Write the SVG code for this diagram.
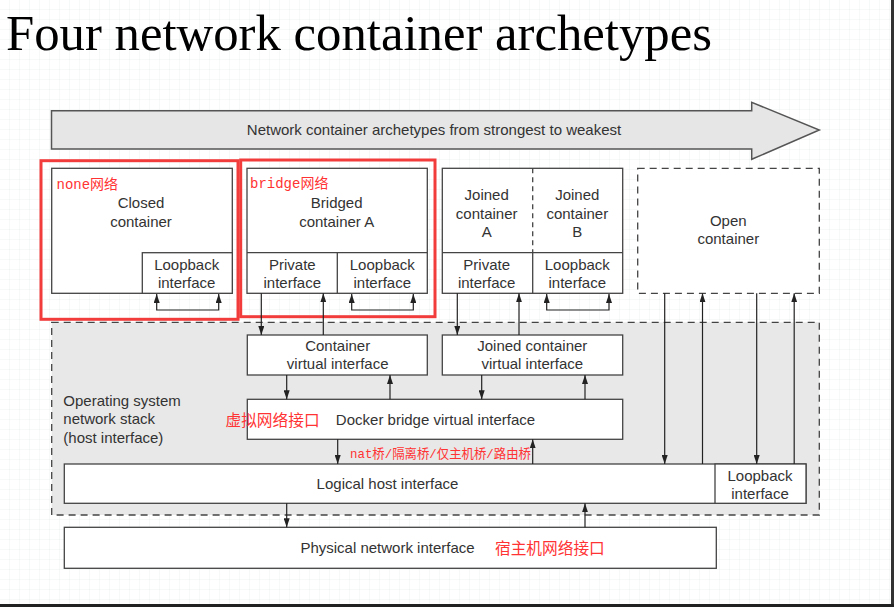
<svg xmlns="http://www.w3.org/2000/svg" width="894" height="607" viewBox="0 0 894 607">
<defs>
<pattern id="grid" width="10" height="10" patternUnits="userSpaceOnUse">
<path d="M10,0 V10 M0,10 H10" fill="none" stroke="#eef1f1" stroke-width="1"/>
</pattern>
<marker id="ah" viewBox="0 0 9 6" refX="9" refY="3" markerWidth="9" markerHeight="6" markerUnits="userSpaceOnUse" orient="auto-start-reverse">
<path d="M0,0 L9,3 L0,6 z" fill="#222"/>
</marker>
</defs>
<style>
.box{fill:#fff;stroke:#444;stroke-width:1.3}
.dbox{fill:#fff;stroke:#444;stroke-width:1.3;stroke-dasharray:7,5}
.t{font-family:"Liberation Sans",Arial,sans-serif;font-size:15px;fill:#333;text-anchor:middle}
.tl{font-family:"Liberation Sans",Arial,sans-serif;font-size:15px;fill:#333}
.red{font-family:"Liberation Mono","Noto Sans CJK SC",monospace;fill:#ff3333}
.redbox{fill:none;stroke:#f23c3c;stroke-width:3}
.c{fill:none;stroke:#222;stroke-width:1.2}
</style>
<rect width="894" height="607" fill="#fff"/>
<rect width="894" height="607" fill="url(#grid)"/>
<rect x="891" y="0" width="3" height="607" fill="#333"/>
<rect x="0" y="604" width="894" height="3" fill="#222"/>

<text x="6" y="50" font-family="'Liberation Serif','Times New Roman',serif" font-size="50" fill="#000" textLength="706" lengthAdjust="spacingAndGlyphs">Four network container archetypes</text>

<g id="strength-arrow">
<path d="M51.5,110.7 H751.7 V102.3 L819.3,130 L751.7,159.3 V149 H51.5 Z" fill="#e6e6e6" stroke="#555" stroke-width="1.5"/>
<text class="t" x="434" y="135.3">Network container archetypes from strongest to weakest</text>
</g>

<g id="os-stack">
<rect x="51.7" y="322.3" width="767.6" height="192.7" fill="#e8e8e8" stroke="#444" stroke-width="1.3" stroke-dasharray="7,5"/>
<text class="tl" x="63.3" y="406">Operating system</text>
<text class="tl" x="63.3" y="424.3">network stack</text>
<text class="tl" x="63.3" y="442.6">(host interface)</text>
</g>

<g id="closed-container">
<rect class="box" x="51.7" y="168.3" width="180.6" height="125"/>
<rect class="box" x="142.3" y="252.7" width="90" height="40.6"/>
<text class="t" x="141" y="208.3">Closed</text>
<text class="t" x="141" y="227">container</text>
<text class="t" x="186.7" y="269.6">Loopback</text>
<text class="t" x="186.7" y="288">interface</text>
<text class="red" x="56.5" y="189.3" font-size="14">none网络</text>
</g>
<rect id="none-highlight" class="redbox" x="41" y="160.7" width="197" height="158.6"/>

<g id="bridged-container">
<rect class="box" x="247" y="168.3" width="180.3" height="125"/>
<path d="M247,252.7 H427.3 M337.3,252.7 V293.3" class="box" fill="none"/>
<text class="t" x="336.7" y="208.3">Bridged</text>
<text class="t" x="336.7" y="227">container A</text>
<text class="t" x="292.3" y="269.6">Private</text>
<text class="t" x="292.3" y="288">interface</text>
<text class="t" x="382.3" y="269.6">Loopback</text>
<text class="t" x="382.3" y="288">interface</text>
<text class="red" x="250" y="188.3" font-size="14">bridge网络</text>
</g>
<rect id="bridge-highlight" class="redbox" x="240.7" y="160" width="194.3" height="156.7"/>

<g id="joined-container">
<rect class="box" x="442.3" y="168.3" width="180.4" height="125"/>
<path d="M442.3,252.7 H622.7 M532.7,252.7 V293.3" fill="none" stroke="#444" stroke-width="1.3"/>
<path d="M532.7,168.3 V252.7" fill="none" stroke="#444" stroke-width="1.3" stroke-dasharray="5,4"/>
<text class="t" x="486.7" y="200.3">Joined</text>
<text class="t" x="486.7" y="218.6">container</text>
<text class="t" x="486.7" y="237">A</text>
<text class="t" x="577.3" y="200.3">Joined</text>
<text class="t" x="577.3" y="218.6">container</text>
<text class="t" x="577.3" y="237">B</text>
<text class="t" x="486.7" y="269.6">Private</text>
<text class="t" x="486.7" y="288">interface</text>
<text class="t" x="577.3" y="269.6">Loopback</text>
<text class="t" x="577.3" y="288">interface</text>
</g>

<g id="open-container">
<rect class="dbox" x="637.7" y="168.3" width="181.6" height="125"/>
<text class="t" x="728.3" y="226">Open</text>
<text class="t" x="728.3" y="244.3">container</text>
</g>

<g id="container-virtual-interface">
<rect class="box" x="247.3" y="335" width="180" height="40"/>
<text class="t" x="337.7" y="351">Container</text>
<text class="t" x="337.7" y="368.6">virtual interface</text>
</g>

<g id="joined-virtual-interface">
<rect class="box" x="442.3" y="335" width="180.4" height="40"/>
<text class="t" x="532.3" y="351">Joined container</text>
<text class="t" x="532.3" y="368.6">virtual interface</text>
</g>

<g id="docker-bridge">
<rect class="box" x="247.3" y="399.3" width="375.4" height="40"/>
<text class="t" x="435.5" y="425.3">Docker bridge virtual interface</text>
<text class="red" x="225.5" y="425.5" font-size="15.7" font-family="'Noto Sans CJK SC',sans-serif">虚拟网络接口</text>
<text class="red" x="350" y="457.8" font-size="13" textLength="181" lengthAdjust="spacingAndGlyphs">nat桥/隔离桥/仅主机桥/路由桥</text>
</g>

<g id="logical-host-interface">
<rect class="box" x="64.3" y="464" width="741.7" height="39.3"/>
<rect class="box" x="715" y="464" width="91" height="39.3"/>
<text class="t" x="387.5" y="489.3">Logical host interface</text>
<text class="t" x="760" y="481">Loopback</text>
<text class="t" x="760" y="498.6">interface</text>
</g>

<g id="physical-network-interface">
<rect class="box" x="64.3" y="527.3" width="652" height="41"/>
<text class="t" x="387.5" y="553.3">Physical network interface</text>
<text class="red" x="495" y="553.5" font-size="15.7" font-family="'Noto Sans CJK SC',sans-serif">宿主机网络接口</text>
</g>

<g id="connectors">
<path class="c" d="M156.7,294 V310 H218.7 V294" marker-start="url(#ah)" marker-end="url(#ah)"/>
<path class="c" d="M351.7,294 V310 H413.3 V294" marker-start="url(#ah)" marker-end="url(#ah)"/>
<path class="c" d="M546.7,294 V310 H609 V294" marker-start="url(#ah)" marker-end="url(#ah)"/>
<path class="c" d="M261.3,293.3 V335" marker-end="url(#ah)"/>
<path class="c" d="M323.3,335 V293.3" marker-end="url(#ah)"/>
<path class="c" d="M457.3,293.3 V335" marker-end="url(#ah)"/>
<path class="c" d="M519,335 V293.3" marker-end="url(#ah)"/>
<path class="c" d="M286.7,375 V399.3" marker-end="url(#ah)"/>
<path class="c" d="M390,399.3 V375" marker-end="url(#ah)"/>
<path class="c" d="M481.7,375 V399.3" marker-end="url(#ah)"/>
<path class="c" d="M585,399.3 V375" marker-end="url(#ah)"/>
<path class="c" d="M337.7,439.3 V464" marker-end="url(#ah)"/>
<path class="c" d="M532.7,464 V439.3" marker-end="url(#ah)"/>
<path class="c" d="M664.7,293.3 V464" marker-end="url(#ah)"/>
<path class="c" d="M702.5,464 V293.3" marker-end="url(#ah)"/>
<path class="c" d="M756.7,293.3 V464" marker-end="url(#ah)"/>
<path class="c" d="M794.2,464 V293.3" marker-end="url(#ah)"/>
<path class="c" d="M286.7,503.3 V527.3" marker-end="url(#ah)"/>
<path class="c" d="M585,527.3 V503.3" marker-end="url(#ah)"/>
</g>
</svg>
